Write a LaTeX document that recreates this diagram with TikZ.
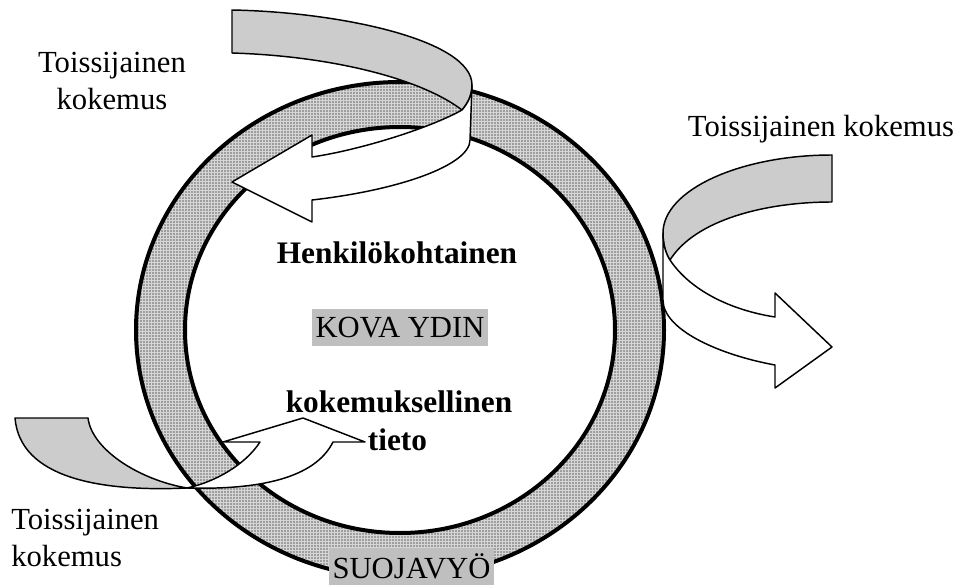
\documentclass[tikz,border=0pt]{standalone}
\usepackage{fontspec}
\setmainfont{Liberation Serif}
\usetikzlibrary{patterns}
\definecolor{ribbongrey}{gray}{0.8}
\definecolor{boxgrey}{gray}{0.75}
\definecolor{ringgrey}{gray}{0.84}
\pgfdeclarepatternformonly{ringdots}{\pgfqpoint{-1pt}{-1pt}}{\pgfqpoint{1.25pt}{1.25pt}}{\pgfqpoint{2.25pt}{2.25pt}}{%
  \pgfpathcircle{\pgfqpoint{0pt}{0pt}}{0.6pt}\pgfusepath{fill}}
\tikzset{
  lbl/.style={font=\fontsize{23}{27.75}\selectfont, inner sep=0pt},
  boldlbl/.style={lbl, font=\fontsize{23.5}{28}\selectfont\bfseries},
  greybox/.style={lbl, fill=boxgrey, inner xsep=3pt},
  ringline/.style={line width=3pt},
  ribbon/.style={line width=1.1pt, line join=round},
}

\begin{document}
\begin{tikzpicture}[x=0.75pt, y=-0.75pt]
  %%%%% START %%%%%
  \useasboundingbox (0,0) rectangle (968,585);

  % lower left ribbon, back side (behind the ring)
  \draw[ribbon, fill=ribbongrey] (15,418) -- (88,418) .. controls (92,450) and (140,480) .. (187,488) .. controls (100,492) and (20,478) .. (15,418) -- cycle;

  % ring
  \fill[ringgrey, even odd rule] (400,330) ellipse (264 and 248) (400,330) ellipse (215 and 203);
  \fill[pattern=ringdots, pattern color=black!60, even odd rule] (400,330) ellipse (264 and 248) (400,330) ellipse (215 and 203);
  \draw[ringline] (400,330) ellipse (264 and 248);
  \draw[ringline] (400,330) ellipse (215 and 203);

  % lower left ribbon, front with head
  \draw[ribbon, fill=white] (187,488) .. controls (260,490) and (315,478) .. (333,442) -- (365,442) -- (303,418) -- (223,442) -- (260,442) .. controls (245,465) and (215,482) .. (187,488) -- cycle;

  % top ribbon
  \draw[ribbon, fill=ribbongrey] (232,10) .. controls (340,12) and (472,40) .. (472,85) .. controls (472,95) and (468,103) .. (462,110) .. controls (420,78) and (330,56) .. (232,53) -- cycle;
  \draw[ribbon, fill=white] (462,110) .. controls (430,128) and (360,150) .. (312,157) -- (312,135) -- (232,182) -- (312,222) -- (312,200) .. controls (400,190) and (470,165) .. (470,140) -- (472,85) .. controls (472,95) and (468,103) .. (462,110) -- cycle;

  % right ribbon
  \draw[ribbon, fill=ribbongrey] (832,155) .. controls (740,155) and (663,190) .. (663,233) .. controls (663,245) and (666,254) .. (670,260) .. controls (695,220) and (765,202) .. (832,202) -- cycle;
  \draw[ribbon, fill=white] (670,260) .. controls (690,290) and (730,310) .. (775,317) -- (775,293) -- (832,347) -- (775,388) -- (775,365) .. controls (720,355) and (663,330) .. (663,300) -- (663,233) .. controls (663,245) and (666,254) .. (670,260) -- cycle;

  % texts
  \node[lbl, align=center, anchor=north] (tlsec) at (112,52) {Toissijainen\\kokemus};
  \node[lbl, anchor=base] (rsec) at (821,137) {Toissijainen kokemus};
  \node[lbl, align=left, anchor=north west] (blsec) at (11,509) {Toissijainen\\kokemus};

  \node[boldlbl, anchor=base] (personal) at (397,263) {Henkilökohtainen};
  \node[greybox, anchor=base, text height=21pt, text depth=6.75pt] (core) at (400,337) {KOVA YDIN};
  \node[boldlbl, anchor=base] (experiential) at (399,412) {kokemuksellinen};
  \node[boldlbl, anchor=base] (knowledge) at (397.5,450) {tieto};
  \node[greybox, anchor=base, text height=22.5pt, text depth=5.25pt] (belt) at (411.5,578) {SUOJAVYÖ};

  %%%%% END %%%%%
\end{tikzpicture}
\end{document}
